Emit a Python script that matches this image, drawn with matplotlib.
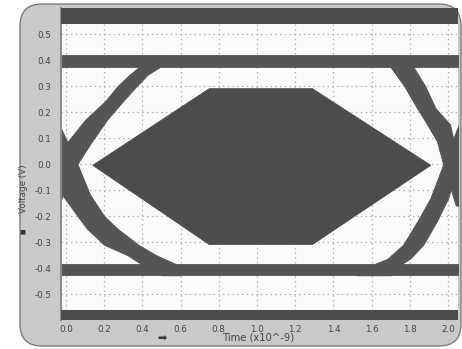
import matplotlib
matplotlib.use("Agg")
import matplotlib.pyplot as plt
from matplotlib.patches import FancyBboxPatch, Polygon

# ---- data (time in ns, voltage in V) ----
x_ticks = [0.0, 0.2, 0.4, 0.6, 0.8, 1.0, 1.2, 1.4, 1.6, 1.8, 2.0]
y_ticks = [-0.5, -0.4, -0.3, -0.2, -0.1, 0.0, 0.1, 0.2, 0.3, 0.4, 0.5]

# eye-mask hexagon vertices
mask_t = [0.14, 0.75, 1.29, 1.91, 1.29, 0.75]
mask_v = [-0.005, 0.29, 0.29, -0.005, -0.31, -0.31]

# upper / lower forbidden regions of the mask
mask_top = 0.54
mask_bottom = -0.56

# logic-level rails (lower edge, upper edge)
rail_high = (0.372, 0.418)
rail_low = (-0.428, -0.383)

# transition envelopes: voltage levels with left / right time edges
rise_left_v = [-0.16, 0.0, 0.087, 0.17, 0.241, 0.30, 0.345, 0.372, 0.418]
rise_left_t0 = [-0.16, -0.06, 0.01, 0.10, 0.204, 0.27, 0.335, 0.38, 0.46]
rise_left_t1 = [-0.04, 0.06, 0.136, 0.215, 0.298, 0.37, 0.43, 0.49, 0.52]

fall_left_v = [0.16, 0.0, -0.118, -0.20, -0.249, -0.311, -0.35, -0.383, -0.428]
fall_left_t0 = [-0.16, -0.06, -0.02, 0.06, 0.11, 0.20, 0.32, 0.39, 0.50]
fall_left_t1 = [-0.04, 0.06, 0.126, 0.20, 0.27, 0.38, 0.47, 0.57, 0.60]

fall_right_v = [0.418, 0.372, 0.30, 0.214, 0.153, 0.087, 0.0, -0.16]
fall_right_t0 = [1.62, 1.70, 1.77, 1.838, 1.89, 1.942, 1.974, 2.04]
fall_right_t1 = [1.76, 1.82, 1.88, 1.935, 2.01, 2.03, 2.07, 2.15]

rise_right_v = [-0.428, -0.383, -0.365, -0.311, -0.222, -0.133, -0.068, 0.0, 0.16]
rise_right_t0 = [1.52, 1.62, 1.681, 1.764, 1.838, 1.906, 1.94, 1.975, 2.06]
rise_right_t1 = [1.70, 1.76, 1.80, 1.87, 1.94, 2.0, 2.026, 2.06, 2.16]

TRACE = "#555555"
MASK = "#4c4c4c"

fig = plt.figure(figsize=(4.62, 3.49), dpi=100)
fig.patch.set_facecolor("white")

# rounded instrument panel
panel = FancyBboxPatch((0.20, 0.03), 4.41, 3.42,
                       boxstyle="round,pad=0,rounding_size=0.22",
                       transform=fig.dpi_scale_trans,
                       facecolor="#c9c9c9", edgecolor="#7d7d7d", linewidth=1.0,
                       zorder=-10)
fig.patches.append(panel)

ax = fig.add_axes([61 / 462, 1 - 320 / 349, 397 / 462, 312 / 349])
ax.set_zorder(1)
ax.set_facecolor("#fbfbfb")
ax.set_xlim(-0.026, 2.052)
ax.set_ylim(-0.6, 0.6)

ax.set_xticks(x_ticks)
ax.set_xticklabels([f"{v:.1f}" for v in x_ticks])
ax.set_yticks(y_ticks)
ax.set_yticklabels([f"{v:.1f}" for v in y_ticks])
ax.tick_params(axis="both", length=0, labelsize=6.3, colors="#454545")
ax.tick_params(axis="y", pad=7)
ax.tick_params(axis="x", pad=3.5)
ax.grid(True, linestyle=(0, (1.2, 2.6)), color="#b0b0b0", linewidth=0.9, zorder=1)
ax.set_axisbelow(True)
for side in ("top", "right", "bottom"):
    ax.spines[side].set_visible(False)
ax.spines["left"].set_color("#8a8a8a")
ax.spines["left"].set_linewidth(1.5)

# mask regions
ax.axhspan(mask_top, 0.6, color=MASK, zorder=3, linewidth=0)
ax.axhspan(-0.6, mask_bottom, color=MASK, zorder=3, linewidth=0)
ax.add_patch(Polygon(list(zip(mask_t, mask_v)), closed=True,
                     facecolor=MASK, edgecolor=MASK, linewidth=0.5, zorder=3))

# rails
ax.fill_between([-0.05, 2.1], rail_high[0], rail_high[1], color=TRACE,
                linewidth=0.6, edgecolor=TRACE, zorder=2)
ax.fill_between([-0.05, 2.1], rail_low[0], rail_low[1], color=TRACE,
                linewidth=0.6, edgecolor=TRACE, zorder=2)

# transitions
for vv, t0, t1 in ((rise_left_v, rise_left_t0, rise_left_t1),
                   (fall_left_v, fall_left_t0, fall_left_t1),
                   (fall_right_v, fall_right_t0, fall_right_t1),
                   (rise_right_v, rise_right_t0, rise_right_t1)):
    ax.fill_betweenx(vv, t0, t1, color=TRACE, linewidth=0.6,
                     edgecolor=TRACE, zorder=2)

# axis captions
fig.text(24 / 462, 1 - 189 / 349, "Voltage (V)", rotation=90, fontsize=6.3,
         color="#454545", ha="center", va="center")
fig.text(22 / 462, 1 - 232 / 349, "\u25a0", fontsize=4.5, color="#333333",
         ha="center", va="center")
fig.text(258 / 462, 1 - 338 / 349, "Time (x10^-9)", fontsize=7.2,
         color="#454545", ha="center", va="center")
fig.text(162 / 462, 1 - 339 / 349, "\u27a1", fontsize=8, color="#333333",
         ha="center", va="center")

fig.savefig("out.png", dpi=100, facecolor="white")
